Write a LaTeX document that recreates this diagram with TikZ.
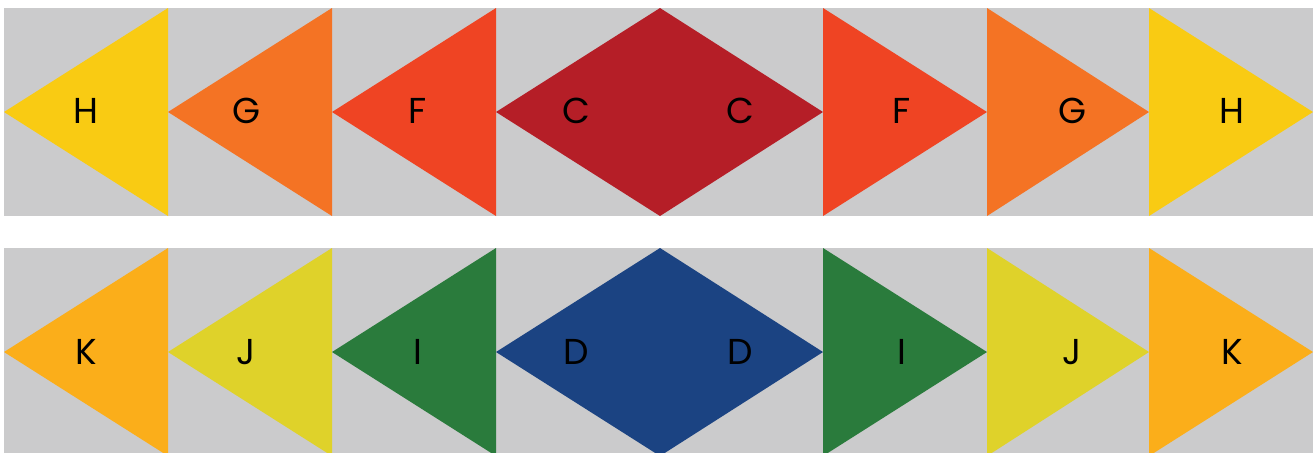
\documentclass[tikz,border=0pt]{standalone}
\usepackage{fontspec}
\setmainfont{Poppins}
\definecolor{bg}{HTML}{CBCBCC}
\definecolor{cH}{HTML}{F9CB13}
\definecolor{cG}{HTML}{F47324}
\definecolor{cF}{HTML}{EF4423}
\definecolor{cC}{HTML}{B51E27}
\definecolor{cK}{HTML}{FBAE1A}
\definecolor{cJ}{HTML}{DFD22A}
\definecolor{cI}{HTML}{2A7B3C}
\definecolor{cD}{HTML}{1B4382}
\tikzset{lbl/.style={font=\fontsize{18}{18}\selectfont, text=black, inner sep=0pt, anchor=center}}
\begin{document}
\begin{tikzpicture}[x=0.5pt,y=-0.5pt]
\useasboundingbox (0,0) rectangle (1315,452);
\clip (0,0) rectangle (1315,452);
% top strip
\fill[bg] (4,8) rectangle (1313,216);
\fill[cH] (4,112) -- (168,8) -- (168,216) -- cycle;
\fill[cG] (168,112) -- (332,8) -- (332,216) -- cycle;
\fill[cF] (332,112) -- (496,8) -- (496,216) -- cycle;
\fill[cC] (496,112) -- (660,8) -- (823,112) -- (660,216) -- cycle;
\fill[cF] (823,8) -- (987,112) -- (823,216) -- cycle;
\fill[cG] (987,8) -- (1149,112) -- (987,216) -- cycle;
\fill[cH] (1149,8) -- (1313,112) -- (1149,216) -- cycle;
\node[lbl] (h1) at (86,111) {H};
\node[lbl] (g1) at (246,111) {G};
\node[lbl] (f1) at (418,111) {F};
\node[lbl] (c1) at (576,111) {C};
\node[lbl] (c2) at (740,111) {C};
\node[lbl] (f2) at (902,111) {F};
\node[lbl] (g2) at (1072,111) {G};
\node[lbl] (h2) at (1232,111) {H};
% bottom strip
\fill[bg] (4,248) rectangle (1313,456);
\fill[cK] (4,352) -- (168,248) -- (168,456) -- cycle;
\fill[cJ] (168,352) -- (332,248) -- (332,456) -- cycle;
\fill[cI] (332,352) -- (496,248) -- (496,456) -- cycle;
\fill[cD] (496,352) -- (660,248) -- (823,352) -- (660,456) -- cycle;
\fill[cI] (823,248) -- (987,352) -- (823,456) -- cycle;
\fill[cJ] (987,248) -- (1149,352) -- (987,456) -- cycle;
\fill[cK] (1149,248) -- (1313,352) -- (1149,456) -- cycle;
\node[lbl] (k1) at (86,352) {K};
\node[lbl] (j1) at (246,352) {J};
\node[lbl] (i1) at (418,352) {I};
\node[lbl] (d1) at (576,352) {D};
\node[lbl] (d2) at (740,352) {D};
\node[lbl] (i2) at (902,352) {I};
\node[lbl] (j2) at (1072,352) {J};
\node[lbl] (k2) at (1232,352) {K};
\end{tikzpicture}
\end{document}
